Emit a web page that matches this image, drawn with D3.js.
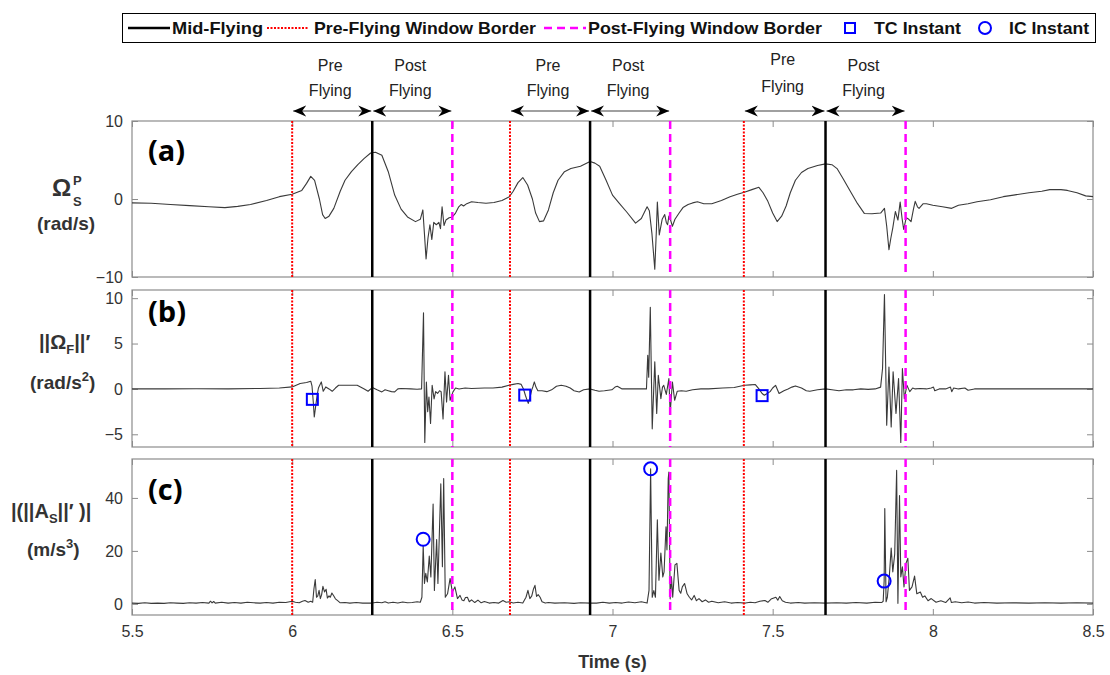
<!DOCTYPE html>
<html>
<head>
<meta charset="utf-8">
<script src="https://cdn.jsdelivr.net/npm/d3@7"></script>
<style>
  body { margin: 0; background: #fff; }
  svg { display: block; font-family: "Liberation Sans", Arial, sans-serif; }
</style>
</head>
<body>
<div id="chart"></div>
<script>
// ---- data ----
const timeDomain = [5.5, 8.5];
const xTicks = [5.5, 6, 6.5, 7, 7.5, 8, 8.5];
const xTickLabels = ["5.5", "6", "6.5", "7", "7.5", "8", "8.5"];

const preBorders = [6.0, 6.68, 7.41];
const midFlying = [6.25, 6.93, 7.665];
const postBorders = [6.5, 7.18, 7.915];

const tcInstants = [[6.063, -1.15], [6.726, -0.68], [7.467, -0.74]];
const icInstants = [[6.409, 24.4], [7.119, 51.0], [7.848, 8.6]];

const legendLabels = ["Mid-Flying", "Pre-Flying Window Border", "Post-Flying Window Border", "TC Instant", "IC Instant"];
const panelLetters = ["(a)", "(b)", "(c)"];

// (a) Omega_S^P, rad/s
const traceA = [[5.5,-0.5],[5.56,-0.55],[5.62,-0.7],[5.68,-0.85],[5.74,-1.0],[5.79,-1.1],[5.83,-0.95],[5.87,-0.7],[5.92,-0.2],[5.96,0.3],[6.0,0.6],[6.03,1.1],[6.045,2.0],[6.058,2.9],[6.07,2.4],[6.085,0.0],[6.095,-2.0],[6.103,-2.5],[6.115,-2.2],[6.13,-1.2],[6.15,1.0],[6.165,2.4],[6.185,3.5],[6.205,4.4],[6.225,5.2],[6.245,5.9],[6.26,6.0],[6.28,5.6],[6.3,3.5],[6.32,0.5],[6.34,-1.3],[6.36,-2.3],[6.385,-2.9],[6.4,-2.6],[6.408,-1.4],[6.413,-4.5],[6.418,-7.7],[6.424,-5.0],[6.43,-3.3],[6.436,-5.2],[6.442,-3.0],[6.45,-3.3],[6.458,-3.0],[6.463,-3.8],[6.468,-1.0],[6.474,-3.4],[6.48,-2.7],[6.49,-2.4],[6.5,-2.3],[6.51,-1.8],[6.52,-1.0],[6.528,-0.7],[6.535,-0.9],[6.545,-0.6],[6.56,-0.35],[6.58,-0.45],[6.605,-0.55],[6.63,-0.45],[6.655,-0.2],[6.678,0.3],[6.69,1.0],[6.705,2.1],[6.72,2.75],[6.735,1.8],[6.75,0.0],[6.76,-1.8],[6.772,-2.9],[6.785,-2.8],[6.8,-1.4],[6.815,0.8],[6.83,2.4],[6.85,3.5],[6.87,3.9],[6.9,4.2],[6.93,4.8],[6.945,4.6],[6.96,4.2],[6.98,2.4],[7.0,0.5],[7.02,-0.5],[7.045,-1.7],[7.072,-3.1],[7.09,-2.5],[7.108,-1.0],[7.115,-1.5],[7.123,-4.4],[7.132,-9.0],[7.137,-4.0],[7.14,-0.4],[7.146,-4.6],[7.155,-2.6],[7.163,-2.0],[7.168,-3.0],[7.172,-3.3],[7.176,-2.2],[7.18,-2.5],[7.187,-3.5],[7.195,-2.6],[7.208,-1.8],[7.22,-1.1],[7.236,-0.7],[7.25,-0.5],[7.265,-0.35],[7.285,-0.6],[7.31,-0.6],[7.34,-0.2],[7.367,0.3],[7.39,0.6],[7.414,0.9],[7.435,1.2],[7.457,1.5],[7.47,0.8],[7.485,-0.3],[7.5,-1.8],[7.514,-2.9],[7.528,-2.2],[7.542,-0.9],[7.555,0.8],[7.571,2.4],[7.59,3.4],[7.61,3.9],[7.64,4.3],[7.665,4.5],[7.685,4.4],[7.701,3.9],[7.72,2.6],[7.741,1.1],[7.765,-0.6],[7.786,-1.85],[7.81,-1.9],[7.837,-1.8],[7.849,-1.2],[7.856,-3.5],[7.863,-6.5],[7.869,-5.0],[7.875,-3.7],[7.883,-1.6],[7.891,-2.7],[7.898,-0.4],[7.904,-2.5],[7.909,-3.9],[7.917,-2.4],[7.925,-2.6],[7.932,-2.9],[7.94,-1.2],[7.945,-0.3],[7.952,-1.0],[7.957,-1.2],[7.97,-0.6],[7.98,-0.6],[8.0,-0.8],[8.03,-1.0],[8.059,-1.2],[8.08,-0.8],[8.11,-0.6],[8.138,-0.35],[8.18,-0.1],[8.22,0.3],[8.252,0.5],[8.3,0.8],[8.34,1.0],[8.365,1.2],[8.4,1.2],[8.42,1.1],[8.45,0.8],[8.477,0.4],[8.5,0.3]];

// (b) ||Omega_F||', rad/s^2
const traceB = [[5.5,0],[5.6,0],[5.7,0.02],[5.8,0],[5.9,0.05],[5.96,0.1],[6.0,0.22],[6.025,0.6],[6.045,0.7],[6.058,0.85],[6.062,0.3],[6.066,-1.5],[6.069,-3.1],[6.073,-2.0],[6.078,-0.7],[6.082,0.1],[6.086,0.4],[6.091,0.77],[6.097,-0.26],[6.105,0.22],[6.115,0.0],[6.125,-0.26],[6.135,0.1],[6.145,0.4],[6.175,0.4],[6.203,0.4],[6.225,0.0],[6.237,-0.26],[6.25,0.15],[6.265,-0.1],[6.28,-0.33],[6.29,-0.1],[6.3,-0.2],[6.31,-0.3],[6.32,-0.33],[6.33,0.0],[6.34,0.05],[6.37,0],[6.39,-0.04],[6.404,0.0],[6.41,8.4],[6.414,-5.9],[6.419,0.77],[6.423,-2.5],[6.427,-0.9],[6.432,-3.8],[6.437,0.4],[6.443,-1.1],[6.448,-0.3],[6.454,-0.5],[6.46,-0.2],[6.465,-0.3],[6.471,-3.3],[6.477,1.9],[6.482,-1.45],[6.488,1.5],[6.493,-1.25],[6.502,-0.33],[6.51,0.1],[6.521,0.0],[6.54,0.1],[6.56,0.05],[6.6,0.1],[6.627,0.1],[6.655,0.2],[6.677,0.4],[6.69,0.5],[6.705,0.6],[6.715,0.5],[6.722,0.0],[6.728,-0.7],[6.733,-1.2],[6.737,-1.6],[6.742,-1.0],[6.748,-0.1],[6.752,0.3],[6.756,0.77],[6.761,0.2],[6.767,-0.2],[6.78,-0.2],[6.795,-0.3],[6.81,-0.1],[6.825,0.3],[6.84,0.4],[6.855,0.3],[6.868,0.1],[6.88,-0.2],[6.896,-0.33],[6.91,-0.1],[6.93,0.0],[6.945,-0.15],[6.958,-0.26],[6.975,-0.2],[6.998,-0.1],[7.008,0.2],[7.015,0.3],[7.03,0.0],[7.05,0.0],[7.072,0.0],[7.09,0.0],[7.106,0.0],[7.11,3.7],[7.113,1.3],[7.118,9.0],[7.124,-4.4],[7.132,3.0],[7.138,-2.7],[7.143,1.5],[7.151,-1.07],[7.156,0.2],[7.16,0.4],[7.168,-0.6],[7.176,1.15],[7.18,-2.7],[7.187,0.77],[7.194,-1.25],[7.202,-0.26],[7.215,-0.2],[7.23,-0.26],[7.25,-0.1],[7.276,0.0],[7.3,0.0],[7.344,0.1],[7.38,0.15],[7.412,0.4],[7.43,0.45],[7.446,0.48],[7.457,0.0],[7.467,-0.5],[7.474,-0.7],[7.483,-0.5],[7.492,-0.3],[7.5,0.1],[7.509,0.4],[7.52,-0.5],[7.535,-0.2],[7.548,0.0],[7.56,0.2],[7.571,0.33],[7.59,0.1],[7.605,-0.2],[7.616,-0.26],[7.64,-0.1],[7.665,0.0],[7.685,-0.1],[7.707,-0.2],[7.73,-0.1],[7.752,-0.1],[7.775,0.0],[7.798,-0.05],[7.82,0.0],[7.837,0.2],[7.843,2.25],[7.849,10.4],[7.856,-4.0],[7.863,2.4],[7.87,-4.2],[7.876,1.9],[7.885,-2.7],[7.893,1.15],[7.9,-5.9],[7.905,2.25],[7.911,-1.07],[7.919,0.4],[7.928,-0.3],[7.937,0.1],[7.945,0.0],[7.96,0.05],[7.98,0.0],[7.995,0.1],[8.002,0.2],[8.006,-0.2],[8.02,0.0],[8.04,0.0],[8.055,0.2],[8.059,-0.3],[8.065,0.1],[8.08,0.0],[8.1,0.1],[8.11,-0.15],[8.13,0.0],[8.2,0.0],[8.3,0.0],[8.4,0.0],[8.5,0.0]];

// (c) |(||A_S||')|, m/s^3
const traceC = [[5.5,0.3],[5.52,0.2],[5.54,0.4],[5.56,0.2],[5.58,0.3],[5.6,0.2],[5.62,0.4],[5.64,0.3],[5.66,0.2],[5.68,0.4],[5.7,0.3],[5.72,0.5],[5.74,0.3],[5.745,1.0],[5.75,0.4],[5.755,0.9],[5.76,0.3],[5.78,0.6],[5.8,0.3],[5.82,0.5],[5.84,0.3],[5.86,0.6],[5.88,0.4],[5.9,0.3],[5.92,0.5],[5.94,0.3],[5.96,0.6],[5.98,0.5],[6.0,1.0],[6.01,0.6],[6.022,0.4],[6.032,1.0],[6.04,1.3],[6.05,0.6],[6.058,1.0],[6.064,0.6],[6.068,5.7],[6.072,9.2],[6.076,2.5],[6.08,3.0],[6.084,5.1],[6.088,2.0],[6.092,3.5],[6.096,6.6],[6.101,4.5],[6.106,5.5],[6.11,2.2],[6.115,3.0],[6.119,2.5],[6.124,4.1],[6.13,3.0],[6.135,1.9],[6.142,1.2],[6.15,0.4],[6.165,0.5],[6.18,0.3],[6.2,0.5],[6.22,0.3],[6.25,0.3],[6.265,0.6],[6.28,0.4],[6.29,0.8],[6.3,0.3],[6.315,0.6],[6.33,0.3],[6.345,0.7],[6.36,0.4],[6.375,0.5],[6.39,0.8],[6.4,0.6],[6.405,2.5],[6.409,22.0],[6.413,7.7],[6.417,11.5],[6.422,8.3],[6.428,18.1],[6.433,10.2],[6.44,37.7],[6.444,5.1],[6.451,24.3],[6.455,7.7],[6.464,45.3],[6.469,14],[6.473,47.3],[6.478,2.5],[6.485,3.8],[6.493,9.6],[6.5,4.5],[6.508,6.4],[6.516,2.0],[6.524,3.2],[6.53,1.5],[6.536,1.2],[6.541,2.4],[6.547,2.5],[6.553,0.8],[6.56,1.5],[6.57,0.5],[6.58,1.4],[6.59,0.4],[6.6,0.9],[6.615,0.3],[6.63,0.5],[6.645,0.3],[6.658,1.3],[6.668,0.6],[6.678,0.8],[6.69,0.3],[6.705,0.6],[6.72,0.3],[6.73,2.5],[6.736,5.1],[6.742,2.0],[6.748,3.0],[6.753,5.5],[6.758,7.0],[6.763,2.8],[6.768,3.5],[6.774,2.5],[6.78,0.8],[6.79,0.3],[6.8,0.5],[6.82,0.3],[6.85,0.4],[6.88,0.2],[6.9,0.4],[6.93,0.3],[6.95,0.3],[6.97,0.6],[6.99,0.3],[7.01,0.5],[7.03,0.3],[7.05,0.7],[7.07,0.4],[7.09,0.8],[7.108,0.3],[7.114,5.1],[7.119,51.0],[7.124,2.5],[7.129,5.0],[7.134,2.5],[7.14,31.7],[7.145,8.9],[7.151,19.2],[7.157,10.2],[7.161,12.1],[7.167,29.1],[7.17,20.4],[7.174,47.3],[7.176,49.8],[7.18,1.9],[7.184,10.2],[7.188,2.5],[7.195,14.7],[7.201,15.3],[7.208,5.1],[7.213,4.0],[7.218,6.4],[7.225,7.7],[7.233,3.8],[7.24,2.5],[7.247,1.5],[7.255,3.2],[7.262,1.2],[7.27,2.0],[7.28,0.8],[7.29,1.5],[7.3,0.6],[7.31,1.0],[7.33,0.4],[7.35,0.8],[7.37,0.3],[7.39,0.5],[7.415,0.3],[7.43,0.6],[7.445,0.4],[7.46,1.0],[7.476,1.3],[7.485,0.6],[7.495,1.8],[7.51,2.5],[7.516,1.4],[7.522,2.8],[7.53,1.2],[7.54,0.6],[7.555,0.3],[7.58,0.5],[7.6,0.3],[7.63,0.4],[7.665,0.3],[7.7,0.4],[7.73,0.3],[7.76,0.5],[7.794,0.3],[7.82,0.6],[7.84,0.5],[7.845,1.0],[7.848,8.6],[7.85,36.0],[7.854,0.8],[7.858,2.5],[7.864,10.2],[7.87,21.1],[7.875,12.1],[7.881,18.9],[7.887,50.4],[7.891,0.2],[7.896,40.9],[7.9,10.2],[7.905,14],[7.91,6.4],[7.916,15.3],[7.922,17.2],[7.927,5.1],[7.935,6.4],[7.943,10.5],[7.95,3.8],[7.961,4.5],[7.968,2.5],[7.975,3.0],[7.985,1.2],[7.995,2.0],[8.01,0.6],[8.025,1.2],[8.04,0.5],[8.054,2.3],[8.058,0.5],[8.07,0.8],[8.09,0.4],[8.11,0.7],[8.13,0.3],[8.16,0.5],[8.2,0.3],[8.25,0.4],[8.3,0.3],[8.35,0.4],[8.4,0.3],[8.45,0.4],[8.5,0.3]];

const yTicksA = [-10, 0, 10];
const yTicksB = [-5, 0, 5, 10];
const yTicksC = [0, 20, 40];

// ---- layout ----
const width = 1110;
const height = 675;
const plotLeft = 132;
const plotRight = 1093;
const boxColor = "#8c8c8c";
const textColor = "#333";

const svg = d3
  .select("#chart")
  .append("svg")
  .attr("width", width)
  .attr("height", height)
  .attr("viewBox", [0, 0, width, height]);

const defs = svg.append("defs");
defs
  .append("marker")
  .attr("id", "head")
  .attr("viewBox", "0 -6 14 12")
  .attr("refX", 13)
  .attr("refY", 0)
  .attr("markerUnits", "userSpaceOnUse")
  .attr("markerWidth", 14)
  .attr("markerHeight", 12)
  .attr("orient", "auto-start-reverse")
  .append("path")
  .attr("d", "M0,-5.5L13,0L0,5.5L4,0Z")
  .attr("fill", "#000");

const x = d3.scaleLinear().domain(timeDomain).range([plotLeft, plotRight]);

const panels = [
  { trace: traceA, domain: [-10, 10], top: 121, bottom: 277, ticks: yTicksA, marks: null },
  { trace: traceB, domain: [-6.4, 10.9], top: 290, bottom: 447, ticks: yTicksB, marks: "square" },
  { trace: traceC, domain: [-4.2, 54.7], top: 459, bottom: 615, ticks: yTicksC, marks: "circle" },
];

panels.forEach((p, i) => {
  const y = d3.scaleLinear().domain(p.domain).range([p.bottom, p.top]);
  const g = svg.append("g");

  // inside ticks on all four sides
  const styleAxis = (sel) => {
    sel.select(".domain").remove();
    sel.selectAll("line").attr("stroke", boxColor);
    sel.selectAll("text").attr("fill", textColor).attr("font-size", 16);
  };
  g.append("g")
    .attr("transform", `translate(${plotLeft},0)`)
    .call(d3.axisLeft(y).tickValues(p.ticks).tickSizeInner(-6).tickSizeOuter(0).tickPadding(9))
    .call(styleAxis);
  g.append("g")
    .attr("transform", `translate(${plotRight},0)`)
    .call(d3.axisRight(y).tickValues(p.ticks).tickSizeInner(-6).tickSizeOuter(0).tickFormat(""))
    .call(styleAxis);
  g.append("g")
    .attr("transform", `translate(0,${p.top})`)
    .call(d3.axisTop(x).tickValues(xTicks).tickSizeInner(-6).tickSizeOuter(0).tickFormat(""))
    .call(styleAxis);
  g.append("g")
    .attr("transform", `translate(0,${p.bottom})`)
    .call(
      d3.axisBottom(x)
        .tickValues(xTicks)
        .tickSizeInner(-6)
        .tickSizeOuter(0)
        .tickPadding(11)
        .tickFormat((d, k) => (i === 2 ? xTickLabels[k] : ""))
    )
    .call(styleAxis);

  g.append("rect")
    .attr("x", plotLeft)
    .attr("y", p.top)
    .attr("width", plotRight - plotLeft)
    .attr("height", p.bottom - p.top)
    .attr("fill", "none")
    .attr("stroke", boxColor)
    .attr("stroke-width", 1.2);

  g.append("path")
    .datum(p.trace)
    .attr("d", d3.line().x((d) => x(d[0])).y((d) => y(d[1])))
    .attr("fill", "none")
    .attr("stroke", "#3a3a3a")
    .attr("stroke-width", 1.1)
    .attr("stroke-linejoin", "round");

  // window borders
  g.selectAll(".pre")
    .data(preBorders)
    .join("line")
    .attr("x1", (d) => x(d)).attr("x2", (d) => x(d))
    .attr("y1", p.top).attr("y2", p.bottom)
    .attr("stroke", "#ff0000")
    .attr("stroke-width", 2)
    .attr("stroke-dasharray", "2,1.5");
  g.selectAll(".mid")
    .data(midFlying)
    .join("line")
    .attr("x1", (d) => x(d)).attr("x2", (d) => x(d))
    .attr("y1", p.top).attr("y2", p.bottom)
    .attr("stroke", "#000")
    .attr("stroke-width", 2.5);
  g.selectAll(".post")
    .data(postBorders)
    .join("line")
    .attr("x1", (d) => x(d)).attr("x2", (d) => x(d))
    .attr("y1", p.top).attr("y2", p.bottom)
    .attr("stroke", "#ff00ff")
    .attr("stroke-width", 2.5)
    .attr("stroke-dasharray", "8,5");

  if (p.marks === "square") {
    g.selectAll(".tc")
      .data(tcInstants)
      .join("rect")
      .attr("x", (d) => x(d[0]) - 5.5)
      .attr("y", (d) => y(d[1]) - 5.5)
      .attr("width", 11)
      .attr("height", 11)
      .attr("fill", "none")
      .attr("stroke", "#0000ff")
      .attr("stroke-width", 2);
  }
  if (p.marks === "circle") {
    g.selectAll(".ic")
      .data(icInstants)
      .join("circle")
      .attr("cx", (d) => x(d[0]))
      .attr("cy", (d) => y(d[1]))
      .attr("r", 6.5)
      .attr("fill", "none")
      .attr("stroke", "#0000ff")
      .attr("stroke-width", 2);
  }
});

// panel letters
const letterY = [161, 322, 500];
panelLetters.forEach((t, i) => {
  svg.append("text")
    .text(t)
    .attr("x", 148)
    .attr("y", letterY[i])
    .attr("font-family", "'Open Sans', sans-serif")
    .attr("font-weight", 700)
    .attr("font-size", 29)
    .attr("fill", "#000");
});

// y-axis labels
const labelStyle = (sel, size) =>
  sel.attr("font-weight", 700).attr("font-size", size).attr("fill", textColor);

svg.append("text").text("\u03A9").attr("x", 52).attr("y", 196).call(labelStyle, 24);
svg.append("text").text("P").attr("x", 73).attr("y", 185).call(labelStyle, 13);
svg.append("text").text("S").attr("x", 73).attr("y", 206).call(labelStyle, 13);
svg.append("text").text("(rad/s)").attr("x", 37).attr("y", 230).call(labelStyle, 19);

const labB = svg.append("text").attr("x", 39).attr("y", 349).call(labelStyle, 20);
labB.append("tspan").text("||\u03A9");
labB.append("tspan").text("F").attr("font-size", 13).attr("dy", 5);
labB.append("tspan").text("||\u2032").attr("dy", -5);
const labB2 = svg.append("text").attr("x", 30).attr("y", 389).call(labelStyle, 19);
labB2.append("tspan").text("(rad/s");
labB2.append("tspan").text("2").attr("font-size", 13).attr("dy", -8);
labB2.append("tspan").text(")").attr("dy", 8);

const labC = svg.append("text").attr("x", 11).attr("y", 518).call(labelStyle, 20);
labC.append("tspan").text("|(||A");
labC.append("tspan").text("S").attr("font-size", 13).attr("dy", 5);
labC.append("tspan").text("||\u2032 )|").attr("dy", -5);
const labC2 = svg.append("text").attr("x", 27).attr("y", 556).call(labelStyle, 19);
labC2.append("tspan").text("(m/s");
labC2.append("tspan").text("3").attr("font-size", 13).attr("dy", -8);
labC2.append("tspan").text(")").attr("dy", 8);

// x label
svg.append("text")
  .text("Time (s)")
  .attr("x", (plotLeft + plotRight) / 2)
  .attr("y", 668)
  .attr("text-anchor", "middle")
  .call(labelStyle, 18);

// window annotations above panel (a)
const arrowY = 111;
const spans = [];
preBorders.forEach((d, k) => {
  spans.push({ from: d, to: midFlying[k], top: "Pre", raise: k === 2 ? 6 : 0 });
  spans.push({ from: midFlying[k], to: postBorders[k], top: "Post", raise: 0 });
});
const ann = svg.append("g").attr("font-size", 16).attr("fill", "#222");
spans.forEach((s) => {
  ann.append("line")
    .attr("x1", x(s.from) + 1)
    .attr("x2", x(s.to) - 1)
    .attr("y1", arrowY)
    .attr("y2", arrowY)
    .attr("stroke", "#808080")
    .attr("stroke-width", 1.5)
    .attr("marker-start", "url(#head)")
    .attr("marker-end", "url(#head)");
  const cx = (x(s.from) + x(s.to)) / 2 - 2;
  ann.append("text").text(s.top).attr("x", cx).attr("y", 71 - s.raise).attr("text-anchor", "middle");
  ann.append("text").text("Flying").attr("x", cx).attr("y", 96 - s.raise * 0.6).attr("text-anchor", "middle");
});

// legend
const legend = svg.append("g");
legend.append("rect")
  .attr("x", 122.5).attr("y", 13.5).attr("width", 973).attr("height", 29)
  .attr("fill", "#fff").attr("stroke", "#000").attr("stroke-width", 1);
const ly = 28;
legend.append("line").attr("x1", 128).attr("x2", 170).attr("y1", ly).attr("y2", ly)
  .attr("stroke", "#000").attr("stroke-width", 2.5);
legend.append("line").attr("x1", 267).attr("x2", 308).attr("y1", ly).attr("y2", ly)
  .attr("stroke", "#ff0000").attr("stroke-width", 2).attr("stroke-dasharray", "2,1.5");
legend.append("line").attr("x1", 544).attr("x2", 586).attr("y1", ly).attr("y2", ly)
  .attr("stroke", "#ff00ff").attr("stroke-width", 2.5).attr("stroke-dasharray", "8,5");
legend.append("rect").attr("x", 845).attr("y", ly - 5).attr("width", 10).attr("height", 10)
  .attr("fill", "none").attr("stroke", "#0000ff").attr("stroke-width", 2);
legend.append("circle").attr("cx", 985).attr("cy", ly).attr("r", 6)
  .attr("fill", "none").attr("stroke", "#0000ff").attr("stroke-width", 2);

const legendText = [
  { x: 172, w: 91 },
  { x: 314, w: 222 },
  { x: 588, w: 234 },
  { x: 874, w: 87 },
  { x: 1009, w: 80 },
];
legendLabels.forEach((t, k) => {
  legend.append("text")
    .text(t)
    .attr("x", legendText[k].x)
    .attr("y", ly + 6)
    .attr("textLength", legendText[k].w)
    .attr("lengthAdjust", "spacingAndGlyphs")
    .attr("font-family", "'Liberation Sans Narrow', 'Liberation Sans', sans-serif")
    .attr("font-weight", 700)
    .attr("font-size", 17)
    .attr("fill", "#111");
});
</script>
</body>
</html>
